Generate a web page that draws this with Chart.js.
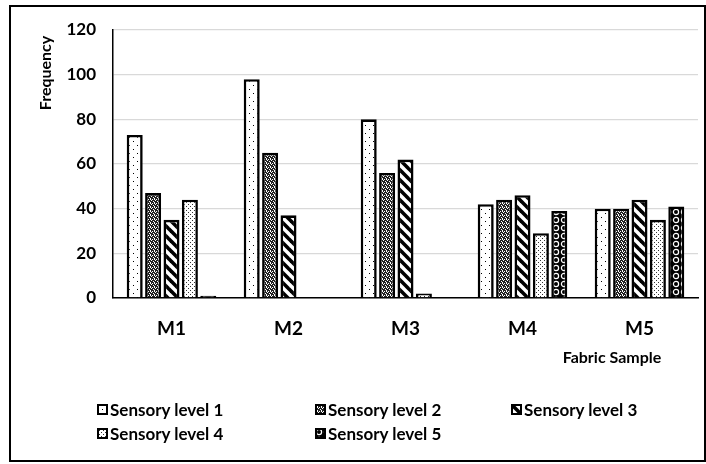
<!DOCTYPE html>
<html>
<head>
<meta charset="utf-8">
<script src="https://cdn.jsdelivr.net/npm/chart.js@4/dist/chart.umd.min.js"></script>
<style>
  html, body { margin: 0; padding: 0; background: #fff; }
  #wrap { position: relative; width: 706px; height: 464px; overflow: hidden; }
  #frame { position: absolute; left: 9px; top: 5px; width: 693px; height: 453px; border: 2px solid #000; pointer-events: none; }
  #chart { position: absolute; left: 0; top: 0; }
  .leg { position: absolute; display: flex; align-items: center; font: bold 17px Lato, "Liberation Sans", sans-serif; color: #000; white-space: nowrap; height: 22px; }
  .leg canvas { width: 11px; height: 11px; margin-right: 2px; }
</style>
</head>
<body>
<div id="wrap">
  <canvas id="chart" width="706" height="464"></canvas>
  <div id="frame"></div>
</div>
<script>
// Fabric samples and frequency counts per sensory level
const categories = ['M1', 'M2', 'M3', 'M4', 'M5'];
const level1 = [73, 98, 80, 42, 40];
const level2 = [47, 65, 56, 44, 40];
const level3 = [35, 37, 62, 46, 44];
const level4 = [44, 0, 2, 29, 35];
const level5 = [1, 0, 0, 39, 41];
const seriesNames = ['Sensory level 1', 'Sensory level 2', 'Sensory level 3', 'Sensory level 4', 'Sensory level 5'];
const yTicks = [0, 20, 40, 60, 80, 100, 120];

const FONT = 'Lato, "Liberation Sans", sans-serif';

// Black-and-white hatch fills, one per sensory level
function makeTile(w, h, draw) {
  const c = document.createElement('canvas');
  c.width = w; c.height = h;
  const g = c.getContext('2d');
  draw(g, w, h);
  return c;
}
function px(g, pts) { pts.forEach(([x, y]) => g.fillRect(x, y, 1, 1)); }

const tiles = [
  // sparse dots
  makeTile(8, 8, (g) => { g.fillStyle = '#fff'; g.fillRect(0, 0, 8, 8); g.fillStyle = '#000'; px(g, [[1, 1], [5, 5]]); }),
  // dense grey ring texture
  makeTile(4, 4, (g) => {
    g.fillStyle = '#fff'; g.fillRect(0, 0, 4, 4); g.fillStyle = '#222';
    px(g, [[0, 0], [1, 0], [2, 0], [0, 1], [2, 1], [3, 1], [0, 2], [1, 2], [3, 2], [1, 3], [3, 3]]);
  }),
  // wide downward diagonal stripes
  makeTile(10, 10, (g) => {
    g.fillStyle = '#fff'; g.fillRect(0, 0, 10, 10);
    g.strokeStyle = '#000'; g.lineWidth = 3.6;
    [-10, 0, 10].forEach(o => { g.beginPath(); g.moveTo(o - 2, -2); g.lineTo(o + 12, 12); g.stroke(); });
  }),
  // small confetti dots
  makeTile(4, 4, (g) => { g.fillStyle = '#fff'; g.fillRect(0, 0, 4, 4); g.fillStyle = '#333'; px(g, [[0, 0], [2, 2]]); }),
  // black with white rings
  makeTile(8, 8, (g) => {
    g.fillStyle = '#000'; g.fillRect(0, 0, 8, 8);
    g.strokeStyle = '#fff'; g.lineWidth = 1.2;
    g.beginPath(); g.arc(4, 4, 2.6, 0, Math.PI * 2); g.stroke();
  })
];

const ctx = document.getElementById('chart').getContext('2d');
const patterns = tiles.map(t => ctx.createPattern(t, 'repeat'));
const values = [level1, level2, level3, level4, level5];

// Axis titles drawn in the chart's own canvas
const axisTitles = {
  id: 'axisTitles',
  afterDraw(chart) {
    const c = chart.ctx;
    c.save();
    c.fillStyle = '#000';
    c.font = 'bold 16px ' + FONT;
    c.textAlign = 'center';
    c.textBaseline = 'middle';
    c.fillText('Fabric Sample', 612, 358);
    c.translate(46, 73);
    c.rotate(-Math.PI / 2);
    c.fillText('Frequency', 0, 0);
    c.restore();
  }
};

new Chart(ctx, {
  type: 'bar',
  data: {
    labels: categories,
    datasets: seriesNames.map((name, i) => ({
      label: name,
      data: values[i],
      backgroundColor: patterns[i],
      borderColor: '#000',
      borderWidth: 2.6,
      categoryPercentage: 0.786,
      barPercentage: 0.87
    }))
  },
  options: {
    responsive: false,
    animation: false,
    layout: { padding: { left: 0, right: 8, top: 30, bottom: 0 } },
    plugins: { legend: { display: false }, tooltip: { enabled: false } },
    scales: {
      x: {
        grid: { display: false, drawTicks: false },
        border: { color: '#000', width: 1.5 },
        ticks: { color: '#000', padding: 19, font: { family: FONT, weight: 'bold', size: 19 } },
        afterFit(s) { s.height = 166; }
      },
      y: {
        min: 0,
        max: 120,
        afterBuildTicks(s) { s.ticks = yTicks.map(v => ({ value: v })); },
        grid: { color: '#d9d9d9', lineWidth: 1.3, drawTicks: false },
        border: { color: '#000', width: 1.5 },
        ticks: { color: '#000', padding: 17, font: { family: FONT, weight: 'bold', size: 17 } },
        afterFit(s) { s.width = 113; }
      }
    }
  },
  plugins: [axisTitles]
});

// Legend: two rows, three columns
const wrap = document.getElementById('wrap');
const legendSlots = [[97, 398], [315, 398], [511, 398], [97, 422], [315, 422]];
seriesNames.forEach((name, i) => {
  const item = document.createElement('div');
  item.className = 'leg';
  item.style.left = legendSlots[i][0] + 'px';
  item.style.top = legendSlots[i][1] + 'px';
  const sw = document.createElement('canvas');
  sw.width = 11; sw.height = 11;
  const g = sw.getContext('2d');
  g.fillStyle = g.createPattern(tiles[i], 'repeat');
  g.fillRect(0, 0, 11, 11);
  g.strokeStyle = '#000'; g.lineWidth = 2;
  g.strokeRect(1, 1, 9, 9);
  item.appendChild(sw);
  const label = document.createElement('span');
  label.textContent = name;
  item.appendChild(label);
  wrap.appendChild(item);
});
</script>
</body>
</html>
